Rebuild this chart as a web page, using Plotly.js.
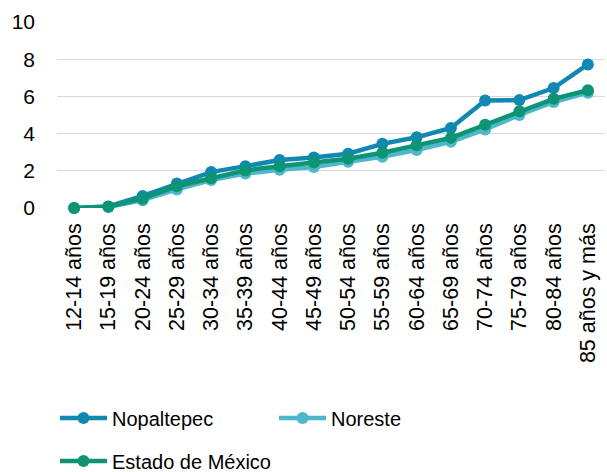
<!DOCTYPE html>
<html>
<head>
<meta charset="utf-8">
<script src="https://cdn.plot.ly/plotly-3.0.1.min.js"></script>
<style>html,body{margin:0;padding:0;background:#fff;}#chart{width:607px;height:472px;}</style>
</head>
<body>
<div id="chart"></div>
<script>
const categories = ["12-14 años","15-19 años","20-24 años","25-29 años","30-34 años","35-39 años","40-44 años","45-49 años","50-54 años","55-59 años","60-64 años","65-69 años","70-74 años","75-79 años","80-84 años","85 años y más"];
const nopaltepec = [0.0, 0.08, 0.65, 1.32, 1.93, 2.25, 2.58, 2.72, 2.92, 3.45, 3.8, 4.3, 5.78, 5.8, 6.45, 7.72];
const noreste    = [0.0, 0.05, 0.42, 1.0, 1.5, 1.85, 2.05, 2.2, 2.48, 2.76, 3.12, 3.56, 4.22, 5.0, 5.7, 6.2];
const estado     = [0.0, 0.07, 0.5, 1.17, 1.6, 2.02, 2.25, 2.45, 2.65, 2.97, 3.37, 3.77, 4.47, 5.2, 5.87, 6.33];
const seriesNames = ["Nopaltepec","Noreste","Estado de México"];
const yTicks = [0, 2, 4, 6, 8, 10];

const colors = ["#1188B1", "#4DB8C9", "#0C9474"];
const FONT = "Arial, 'Liberation Sans', sans-serif";

function mk(name, ys, color, legend) {
  return {
    type: "scatter", mode: "lines+markers", name: name,
    x: categories, y: ys, legend: legend,
    line: {color: color, width: 4.5},
    marker: {color: color, size: 12},
    cliponaxis: false
  };
}
const data = [
  mk(seriesNames[0], nopaltepec, colors[0], "legend"),
  mk(seriesNames[1], noreste, colors[1], "legend"),
  mk(seriesNames[2], estado, colors[2], "legend2")
];

const legendCommon = {
  orientation: "h", xref: "container", yref: "container",
  xanchor: "left", yanchor: "middle",
  font: {family: FONT, size: 20, color: "#000"},
  itemwidth: 47, bgcolor: "rgba(0,0,0,0)",
  entrywidthmode: "pixels", traceorder: "normal"
};

const layout = {
  width: 607, height: 472,
  margin: {l: 57, r: 2, t: 22, b: 264, pad: 0},
  paper_bgcolor: "#fff", plot_bgcolor: "#fff",
  font: {family: FONT, size: 20, color: "#000"},
  xaxis: {
    type: "category", range: [-0.5, categories.length - 0.5], automargin: false,
    tickangle: -90, showgrid: false, zeroline: false,
    showline: false, ticks: "", ticklabelstandoff: 10,
    tickfont: {family: FONT, size: 21.5, color: "#000"}, fixedrange: true
  },
  yaxis: {
    range: [0, 10], tickvals: yTicks, showgrid: true, gridcolor: "#D9D9D9", gridwidth: 1.3,
    zeroline: false, showline: false, ticks: "", ticklabelstandoff: 21, automargin: false,
    tickfont: {family: FONT, size: 21, color: "#000"}, fixedrange: true
  },
  legend: Object.assign({}, legendCommon, {x: 55/607, y: 1 - 418/472, entrywidth: 157}),
  legend2: Object.assign({}, legendCommon, {x: 55/607, y: 1 - 461/472}),
  showlegend: true
};

Plotly.newPlot("chart", data, layout, {displayModeBar: false, staticPlot: true});
</script>
</body>
</html>
